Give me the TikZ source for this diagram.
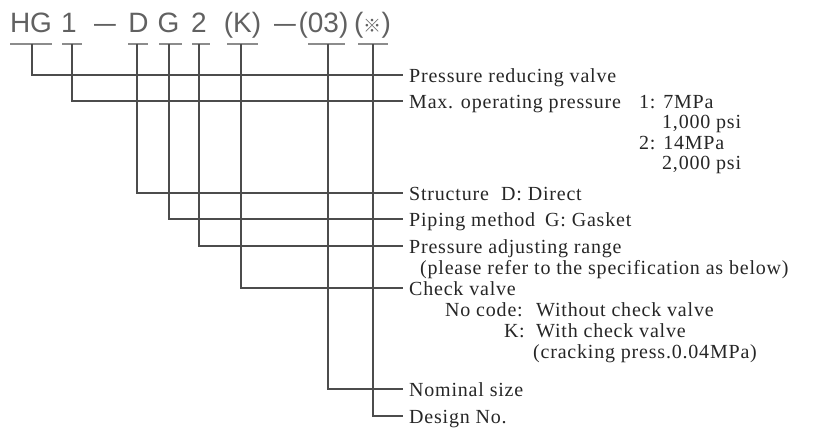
\documentclass[tikz,border=0pt]{standalone}
\usepackage{fontspec}
\setmainfont{Liberation Serif}
\newfontfamily\titlefont{Liberation Sans}
\newfontfamily\cjkfont{Noto Sans CJK JP}
\begin{document}
\begin{tikzpicture}[x=1pt,y=-1pt,
  code/.style={font=\titlefont\fontsize{28}{28}\selectfont, text=black!62, inner sep=0, anchor=base},
  lbl/.style={font=\fontsize{20}{20}\selectfont\addfontfeature{LetterSpace=4}, text=black!85, inner sep=0, anchor=base west},
  ln/.style={draw=black!70, line width=1.1pt},
  ul/.style={draw=black!45, line width=1.4pt}]
\useasboundingbox (0,0) rectangle (817,428);
% code
\node[code] (tHG) at (31,33) {HG};
\node[code] (t1) at (69,33) {1};
\node[code] (td1) at (105,33) {\scalebox{1.4}[1]{–}};
\node[code] (tD) at (138.5,33) {D};
\node[code] (tG) at (168.5,33) {G};
\node[code] (t2) at (199,33) {2};
\node[code] (tK) at (242.5,33) {(K)};
\node[code] (td2) at (285,33) {\scalebox{1.4}[1]{–}};
\node[code] (t03) at (323.5,33) {(03)};
\node[code] (tX) at (372.5,33) {({\cjkfont\fontsize{18}{18}\selectfont ※})};
% underlines
\draw[ul] (10,44) -- (52,44);
\draw[ul] (62,44) -- (82,44);
\draw[ul] (128,44) -- (148,44);
\draw[ul] (159,44) -- (182,44);
\draw[ul] (192,44) -- (210,44);
\draw[ul] (227,44) -- (258,44);
\draw[ul] (308,44) -- (345,44);
\draw[ul] (358,44) -- (388,44);
% stem tops
\coordinate (u1) at (32,44);
\coordinate (u2) at (72,44);
\coordinate (u3) at (137,44);
\coordinate (u4) at (169,44);
\coordinate (u5) at (199,44);
\coordinate (u6) at (241,44);
\coordinate (u7) at (328,44);
\coordinate (u8) at (373,44);
% line ends
\coordinate (e1) at (403,75);
\coordinate (e2) at (403,101);
\coordinate (e3) at (403,193);
\coordinate (e4) at (403,219);
\coordinate (e5) at (403,246);
\coordinate (e6) at (403,288);
\coordinate (e7) at (403,389);
\coordinate (e8) at (403,416);
\foreach \i in {1,...,8} {\draw[ln] (u\i) |- (e\i);}
% labels
\node[lbl] (L1) at (409,82) {Pressure reducing valve};
\node[lbl] (L2) at (409,108) {Max. operating pressure};
\node[lbl] (L2a) at (639,108) {1: 7MPa};
\node[lbl] (L2b) at (662,128.5) {1,000 psi};
\node[lbl] (L2c) at (639,149) {2: 14MPa};
\node[lbl] (L2d) at (662,169.5) {2,000 psi};
\node[lbl] (L3) at (409,200) {Structure};
\node[lbl] (L3a) at (501,200) {D: Direct};
\node[lbl] (L4) at (409,226) {Piping method};
\node[lbl] (L4a) at (545,226) {G: Gasket};
\node[lbl] (L5) at (409,253) {Pressure adjusting range};
\node[lbl] (L5a) at (420,274) {(please refer to the specification as below)};
\node[lbl] (L6) at (409,295) {Check valve};
\node[lbl] (L6a) at (445,316) {No code:};
\node[lbl] (L6b) at (536,316) {Without check valve};
\node[lbl,anchor=base east] (L6c) at (525,337) {K:};
\node[lbl] (L6d) at (536,337) {With check valve};
\node[lbl] (L6e) at (533,358) {(cracking press.0.04MPa)};
\node[lbl] (L7) at (409,396) {Nominal size};
\node[lbl] (L8) at (409,423) {Design No.};
\end{tikzpicture}
\end{document}
